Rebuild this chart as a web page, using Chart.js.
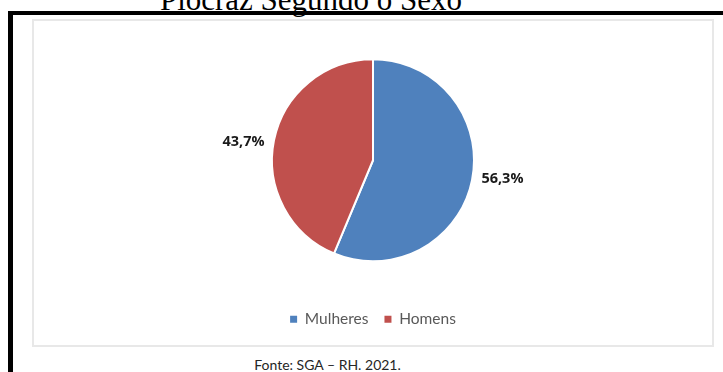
<!DOCTYPE html>
<html>
<head>
<meta charset="utf-8">
<script src="https://cdn.jsdelivr.net/npm/chart.js@4/dist/chart.umd.min.js"></script>
<style>
  html, body { margin: 0; padding: 0; background: #fff; overflow: hidden; }
  body { width: 723px; height: 372px; position: relative; }
  .caption {
    position: absolute; left: 0; width: 622px; top: -16.5px;
    text-align: center; font: 31px/31px "Liberation Serif", "Times New Roman", serif; color: #000;
  }
  .frame-top { position: absolute; left: 8px; top: 11px; width: 715px; height: 4px; background: #000; }
  .frame-left { position: absolute; left: 8px; top: 11px; width: 5px; height: 361px; background: #000; }
  .box {
    position: absolute; left: 32px; top: 19px; width: 682px; height: 328px;
    box-sizing: border-box; border: 2px solid #e8e8e8; background: #fff;
  }
  .box canvas { display: block; }
  .source {
    position: absolute; left: 0; width: 655px; top: 358px;
    text-align: center; font: 14px/14px Lato, "Open Sans", sans-serif; color: #262626;
  }
</style>
</head>
<body>
<div class="caption">Plocraz Segundo o Sexo</div>
<div class="frame-top"></div>
<div class="frame-left"></div>
<div class="box"><canvas id="sexo" width="678" height="324"></canvas></div>
<div class="source">Fonte: SGA – RH. 2021.</div>

<script>
const categories = ['Mulheres', 'Homens']
const percentages = [56.3, 43.7]
const sliceColors = ['#4F81BD', '#C0504D']

// percentage labels beside each slice, pushed out from its middle angle
const outsideLabels = {
  id: 'outsideLabels',
  afterDatasetsDraw(chart) {
    const ctx = chart.ctx
    const meta = chart.getDatasetMeta(0)
    ctx.save()
    ctx.font = 'bold 14.5px "Open Sans", Lato, sans-serif'
    ctx.fillStyle = '#1a1a1a'
    ctx.textAlign = 'center'
    ctx.textBaseline = 'middle'
    meta.data.forEach((arc, i) => {
      const { x, y, startAngle, endAngle, outerRadius } = arc.getProps(['x', 'y', 'startAngle', 'endAngle', 'outerRadius'], true)
      const mid = (startAngle + endAngle) / 2
      const text = percentages[i].toFixed(1).replace('.', ',') + '%'
      ctx.fillText(text, x + Math.cos(mid) * (outerRadius + 31), y + Math.sin(mid) * (outerRadius - 8))
    })
    ctx.restore()
  }
}

new Chart('sexo', {
  type: 'pie',
  data: {
    labels: categories,
    datasets: [{
      data: percentages,
      backgroundColor: sliceColors,
      borderColor: '#fff',
      borderWidth: 2
    }]
  },
  options: {
    responsive: false,
    animation: false,
    radius: 101,
    layout: { padding: { top: 4, bottom: 8 } },
    plugins: {
      tooltip: { enabled: false },
      legend: {
        position: 'bottom',
        labels: {
          usePointStyle: true,
          pointStyle: 'rect',
          boxHeight: 7,
          boxWidth: 7,
          padding: 16,
          color: '#595959',
          font: { family: 'Lato, "Open Sans", sans-serif', size: 15.5 },
          generateLabels(chart) {
            const items = Chart.overrides.pie.plugins.legend.labels.generateLabels(chart)
            return items.map((item) => Object.assign(item, { lineWidth: 0 }))
          }
        }
      }
    }
  },
  plugins: [outsideLabels]
})
</script>
</body>
</html>
